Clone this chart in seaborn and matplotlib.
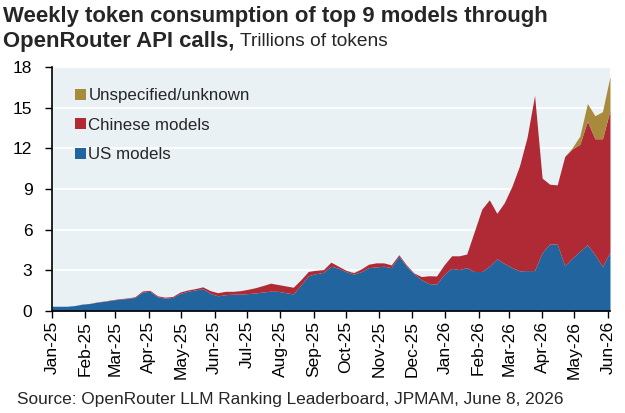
import pandas as pd
import numpy as np
import seaborn as sns
import matplotlib.pyplot as plt
import matplotlib.dates as mdates
from matplotlib.patches import Patch

# Weekly readings, trillions of tokens
weeks = pd.date_range('2025-01-01', periods=75, freq='7D')

us_models = [0.35, 0.35, 0.35, 0.40, 0.50, 0.55, 0.65, 0.72, 0.80, 0.88,
             0.92, 1.00, 1.40, 1.45, 1.05, 0.95, 1.00, 1.30, 1.45, 1.55,
             1.65, 1.30, 1.12, 1.20, 1.24, 1.24, 1.28, 1.33, 1.40, 1.46,
             1.45, 1.35, 1.26, 1.90, 2.60, 2.75, 2.85, 3.30, 3.15, 2.90,
             2.72, 2.90, 3.20, 3.25, 3.30, 3.20, 4.05, 3.30, 2.75, 2.30,
             2.02, 1.98, 2.70, 3.15, 3.05, 3.20, 2.91, 2.91, 3.30, 3.85,
             3.50, 3.20, 2.96, 2.98, 2.98, 4.30, 4.94, 4.94, 3.33, 3.90,
             4.40, 4.89, 4.15, 3.28, 4.35]

chinese_models = [0.00, 0.00, 0.00, 0.00, 0.01, 0.01, 0.02, 0.02, 0.03, 0.03,
                  0.04, 0.05, 0.08, 0.07, 0.07, 0.07, 0.07, 0.10, 0.10, 0.10,
                  0.13, 0.20, 0.23, 0.25, 0.21, 0.26, 0.32, 0.39, 0.48, 0.59,
                  0.50, 0.50, 0.49, 0.40, 0.32, 0.25, 0.20, 0.30, 0.15, 0.10,
                  0.10, 0.20, 0.25, 0.30, 0.25, 0.20, 0.10, 0.10, 0.05, 0.24,
                  0.58, 0.60, 0.70, 0.92, 1.02, 1.00, 2.94, 4.60, 4.90, 3.35,
                  4.50, 6.00, 7.74, 9.82, 12.92, 5.50, 4.41, 4.36, 8.07, 8.05,
                  7.90, 9.11, 8.55, 9.42, 10.45]

unspecified = [0.0] * 40 + [0.03] + [0.0] * 28 + [0.10, 0.60, 1.30, 1.70, 2.00, 2.50]

series_names = ['US models', 'Chinese models', 'Unspecified/unknown']
colors = ['#22659E', '#AF2A34', '#A88A3D']

df = pd.DataFrame({'week': weeks,
                   'US models': us_models,
                   'Chinese models': chinese_models,
                   'Unspecified/unknown': unspecified})

sns.set_theme(style='white')
plt.rcParams['font.family'] = ['Liberation Sans', 'DejaVu Sans']

fig = plt.figure(figsize=(6.25, 4.13), dpi=100)
ax = fig.add_axes([0.083, 0.247, 0.893, 0.591])
ax.set_facecolor('#E9F1F5')

ax.stackplot(df['week'], [df[c] for c in series_names], colors=colors,
             linewidth=0, zorder=2)

# y axis
ax.set_ylim(0, 18)
ax.set_yticks(np.arange(0, 19, 3))
ax.grid(axis='y', color='white', linewidth=1.3, zorder=1)
ax.set_axisbelow(True)

# x axis: monthly ticks
ax.set_xlim(df['week'].iloc[0], df['week'].iloc[-1])
ax.xaxis.set_major_locator(mdates.MonthLocator())
ax.xaxis.set_major_formatter(mdates.DateFormatter('%b-%y'))
ax.tick_params(axis='x', rotation=90, labelsize=12.5, length=5, width=1,
               direction='out', bottom=True, pad=2, colors='black')
ax.tick_params(axis='y', labelsize=12.5, length=5, width=1,
               direction='out', left=True, pad=9, colors='black')

for s in ['top', 'right']:
    ax.spines[s].set_visible(False)
for s in ['left', 'bottom']:
    ax.spines[s].set_color('black')
    ax.spines[s].set_linewidth(1.2)

# legend (top series first)
handles = [Patch(facecolor=colors[i], edgecolor='none') for i in [2, 1, 0]]
labels = [series_names[i] for i in [2, 1, 0]]
ax.legend(handles, labels, loc='upper left', bbox_to_anchor=(0.03, 0.94),
          frameon=False, fontsize=12.2, handlelength=0.65, handleheight=0.65,
          handletextpad=0.12, labelspacing=0.85, borderaxespad=0)

# title
fig.text(0.005, 0.985, 'Weekly token consumption of top 9 models through',
         fontsize=15.9, fontweight='bold', va='top', ha='left')
t2 = fig.text(0.005, 0.925, 'OpenRouter API calls,', fontsize=15.9,
              fontweight='bold', va='top', ha='left')
fig.canvas.draw()
bb = t2.get_window_extent()
x_end = fig.transFigure.inverted().transform((bb.x1, bb.y0))[0]
fig.text(x_end + 0.008, 0.921, 'Trillions of tokens', fontsize=13.8,
         va='top', ha='left')

# source
fig.text(0.027, 0.015, 'Source: OpenRouter LLM Ranking Leaderboard, JPMAM, June 8, 2026',
         fontsize=12.4, va='bottom', ha='left')

fig.savefig('out.png', dpi=100)
